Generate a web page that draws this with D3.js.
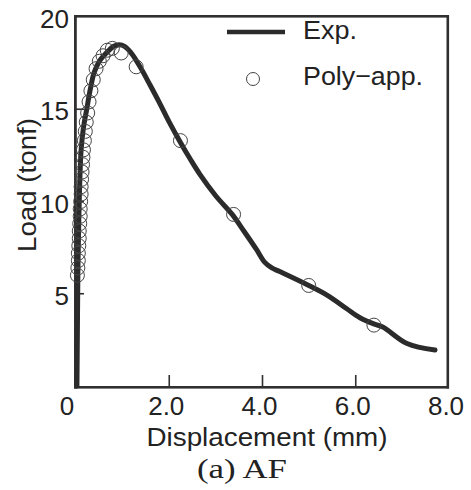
<!DOCTYPE html>
<html>
<head>
<meta charset="utf-8">
<script src="https://cdn.jsdelivr.net/npm/d3@7"></script>
<style>
  html, body { margin: 0; padding: 0; background: #fff; }
  svg { display: block; }
</style>
</head>
<body>
<svg id="chart" width="471" height="490"></svg>
<script>
// Experimental curve (displacement mm, load tonf)
const expX = [0.02, 0.03, 0.04, 0.06, 0.08, 0.11, 0.16, 0.23, 0.30, 0.39, 0.50, 0.67, 0.80, 0.92, 1.05, 1.20, 1.42, 1.57, 1.78, 2.00, 2.24, 2.45, 2.65, 3.00, 3.35, 3.60, 3.87, 4.05, 4.20, 4.37, 4.95, 5.40, 5.80, 6.09, 6.40, 6.58, 7.10, 7.70];
const expY = [0.0, 3.0, 6.0, 9.0, 11.0, 12.8, 14.0, 15.0, 16.0, 17.0, 17.6, 18.1, 18.4, 18.5, 18.4, 18.0, 17.1, 16.4, 15.4, 14.3, 13.2, 12.3, 11.5, 10.3, 9.3, 8.4, 7.4, 6.7, 6.4, 6.2, 5.5, 4.9, 4.2, 3.7, 3.35, 3.2, 2.3, 1.95];

// Polynomial approximation points
const polyX = [0.03, 0.04, 0.05, 0.05, 0.06, 0.07, 0.07, 0.08, 0.09, 0.09, 0.10, 0.11, 0.11, 0.12, 0.13, 0.14, 0.15, 0.16, 0.18, 0.20, 0.22, 0.25, 0.28, 0.32, 0.37, 0.43, 0.50, 0.58, 0.67, 0.78, 0.97, 1.29, 2.24, 3.38, 4.99, 6.39];
const polyY = [6.0, 6.4, 6.8, 7.2, 7.6, 8.0, 8.4, 8.8, 9.2, 9.6, 10.0, 10.4, 10.8, 11.2, 11.6, 12.0, 12.4, 12.8, 13.3, 13.8, 14.3, 14.8, 15.4, 16.0, 16.6, 17.2, 17.6, 17.9, 18.2, 18.3, 18.05, 17.3, 13.3, 9.3, 5.45, 3.3];

const xTicks = [0, 2, 4, 6, 8];
const xTickLabels = ["0", "2.0", "4.0", "6.0", "8.0"];
const yTicks = [5, 10, 15, 20];
const yTickLabels = ["5", "10", "15", "20"];
const seriesNames = ["Exp.", "Poly\u2212app."];

const svg = d3.select("#chart");
const x = d3.scaleLinear().domain([0, 8]).range([76, 449]);
const y = d3.scaleLinear().domain([0, 20]).range([386, 17]);

const ink = "#2b2b2b";
const sans = "'Liberation Sans', Arial, Helvetica, sans-serif";

// frame drawn as four filled bars
const frameBars = [
  { x: 74, y: 15, w: 375, h: 2.6 },
  { x: 446.5, y: 15, w: 2.6, h: 373.5 },
  { x: 74, y: 386, w: 375, h: 2.6 },
  { x: 74, y: 15, w: 2.8, h: 373.5 }
];
svg.selectAll("rect.fb").data(frameBars).enter().append("rect")
  .attr("class", "fb")
  .attr("x", d => d.x).attr("y", d => d.y).attr("width", d => d.w).attr("height", d => d.h)
  .attr("fill", "#303030");

// inward ticks as filled bars
svg.selectAll("rect.xt").data([2, 4, 6]).enter().append("rect")
  .attr("class", "xt")
  .attr("x", d => x(d) - 0.8).attr("y", 375).attr("width", 1.6).attr("height", 12)
  .attr("fill", "#303030");
svg.selectAll("rect.yt").data([5, 10, 15]).enter().append("rect")
  .attr("class", "yt")
  .attr("x", 75).attr("y", d => y(d) - 0.8).attr("width", 9).attr("height", 1.6)
  .attr("fill", "#303030");

// experimental line
const expData = expX.map((d, i) => [d, expY[i]]);
svg.append("path")
  .datum(expData)
  .attr("d", d3.line().x(d => x(d[0])).y(d => y(d[1])).curve(d3.curveCatmullRom.alpha(0.5)))
  .attr("fill", "none").attr("stroke", ink).attr("stroke-width", 5)
  .attr("stroke-linejoin", "round").attr("stroke-linecap", "round");

// poly-app circles
const polyData = polyX.map((d, i) => [d, polyY[i]]);
svg.selectAll("circle.pc").data(polyData).enter().append("circle")
  .attr("class", "pc")
  .attr("cx", d => x(d[0])).attr("cy", d => y(d[1]))
  .attr("r", 7)
  .attr("fill", "none").attr("stroke", "#444").attr("stroke-width", 1);

// tick labels
svg.selectAll("text.xl").data(xTicks).enter().append("text")
  .attr("class", "xl")
  .attr("x", (d, i) => i === 0 ? 67 : x(d) - 3)
  .attr("y", 415)
  .attr("text-anchor", "middle")
  .attr("font-family", sans).attr("fill", "#222")
  .attr("font-size", 26)
  .text((d, i) => xTickLabels[i]);
svg.selectAll("text.yl").data(yTicks).enter().append("text")
  .attr("class", "yl")
  .attr("x", 69)
  .attr("y", d => y(d) + 11)
  .attr("text-anchor", "end")
  .attr("font-family", sans).attr("fill", "#222")
  .attr("font-size", 26)
  .text((d, i) => yTickLabels[i]);

// axis titles
svg.append("text")
  .attr("x", 267).attr("y", 446)
  .attr("text-anchor", "middle")
  .attr("font-family", sans).attr("fill", "#222")
  .attr("font-size", 26)
  .attr("textLength", 241).attr("lengthAdjust", "spacingAndGlyphs")
  .text("Displacement (mm)");
svg.append("text")
  .attr("transform", "translate(36,185) rotate(-90)")
  .attr("text-anchor", "middle")
  .attr("font-family", sans).attr("fill", "#222")
  .attr("font-size", 26)
  .attr("textLength", 134).attr("lengthAdjust", "spacingAndGlyphs")
  .text("Load (tonf)");
svg.append("text")
  .attr("x", 242).attr("y", 478)
  .attr("text-anchor", "middle")
  .attr("font-size", 28)
  .attr("textLength", 90).attr("lengthAdjust", "spacingAndGlyphs")
  .attr("font-family", "'Liberation Serif', 'Times New Roman', serif").attr("fill", "#222")
  .text("(a) AF");

// legend
svg.append("line")
  .attr("x1", 227).attr("x2", 285).attr("y1", 32).attr("y2", 32)
  .attr("stroke", ink).attr("stroke-width", 4.5);
svg.append("text").attr("x", 303).attr("y", 39).attr("font-size", 26)
  .attr("font-family", sans).attr("fill", "#222")
  .attr("textLength", 54).attr("lengthAdjust", "spacingAndGlyphs")
  .text(seriesNames[0]);
svg.append("circle").attr("cx", 253).attr("cy", 79).attr("r", 6.5)
  .attr("fill", "none").attr("stroke", "#444").attr("stroke-width", 1);
svg.append("text").attr("x", 303).attr("y", 85).attr("font-size", 26)
  .attr("font-family", sans).attr("fill", "#222")
  .attr("textLength", 120).attr("lengthAdjust", "spacingAndGlyphs")
  .text(seriesNames[1]);
</script>
</body>
</html>
